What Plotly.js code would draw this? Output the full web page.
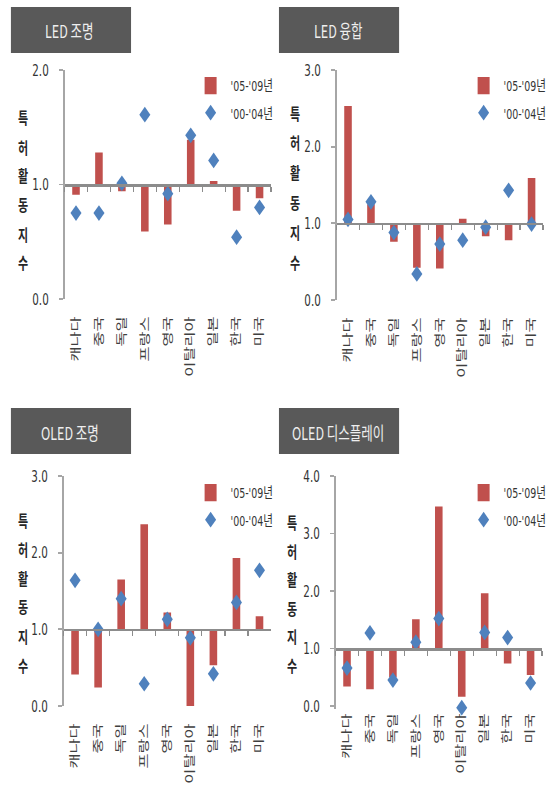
<!DOCTYPE html>
<html><head><meta charset="utf-8">
<script src="https://cdn.plot.ly/plotly-3.0.1.min.js"></script>
<style>
html{margin:0;padding:0;background:#fff;overflow:hidden;height:797px;}
body{margin:0;padding:0;background:#fff;height:797px;}
#chart{width:552px;height:560px;transform:scaleY(1.4232);transform-origin:0 0;}
</style></head><body><div id="chart"></div>
<script>
// ---------- data ----------
const countries = ['캐나다','중국','독일','프랑스','영국','이탈리아','일본','한국','미국'];
const panelTitles = ['LED 조명','LED 융합','OLED 조명','OLED 디스플레이'];
const seriesNames = ["'05-'09년","'00-'04년"];
const yTitleChars = ['특','허','활','동','지','수'];
const yMax = [2,3,3,4];
const yMin = [0,0,0,-0.05];
const baseline = 1.0;

const ledLight0509  = [0.91,1.28,0.94,0.59,0.65,1.39,1.03,0.77,0.88];
const ledLight0004  = [0.75,0.75,1.01,1.61,0.92,1.43,1.21,0.54,0.80];
const ledFusion0509 = [2.53,1.25,0.76,0.42,0.41,1.06,0.83,0.78,1.59];
const ledFusion0004 = [1.05,1.28,0.88,0.34,0.73,0.78,0.95,1.43,0.99];
const oledLight0509 = [0.41,0.24,1.65,2.37,1.22,0.00,0.53,1.93,1.17];
const oledLight0004 = [1.64,1.00,1.40,0.29,1.13,0.89,0.42,1.35,1.77];
const oledDisp0509  = [0.34,0.29,0.50,1.51,3.47,0.16,1.96,0.74,0.54];
const oledDisp0004  = [0.66,1.27,0.45,1.11,1.52,-0.03,1.28,1.19,0.40];

const recent = [ledLight0509, ledFusion0509, oledLight0509, oledDisp0509];
const earlier = [ledLight0004, ledFusion0004, oledLight0004, oledDisp0004];

// ---------- layout geometry (final pixel positions) ----------
const PW = 552, PH = 797;
const px = v => v / PW;
const py = v => 1 - v / PH;
// plot: [left, right, pixel of top value, pixel of value 0]
const panels = [
  {plot:[65,273,70,299],  box:[11,132,7,53],    ytx:23,  yt:[117,262], leg:[192,65]},
  {plot:[339,547,70,300], box:[281,402,7,53],   ytx:297, yt:[113,262], leg:[467,65]},
  {plot:[64,273,476,706], box:[11,132,408,454], ytx:23,  yt:[520,665], leg:[192,472]},
  {plot:[338,546,476,706],box:[281,402,408,454],ytx:294, yt:[522,665], leg:[467,472]}
];

const numFont = "'Liberation Sans Narrow','DejaVu Sans Condensed','Noto Sans CJK KR',sans-serif";
const korFont = "'Noto Sans CJK KR','Noto Sans',sans-serif";
const RED = '#C0504D', BLUE = '#4F81BD';

const traces = [];
const layout = {
  width: 552, height: 560,
  margin: {l:0,r:0,t:0,b:0},
  paper_bgcolor:'#ffffff', plot_bgcolor:'rgba(0,0,0,0)',
  showlegend: true,
  shapes: [], annotations: []
};

panels.forEach((p, i) => {
  const n = i + 1, m = i + 5;
  const unit = (p.plot[3] - p.plot[2]) / yMax[i];
  const bottomPx = p.plot[3] - yMin[i] * unit;
  const xd = [px(p.plot[0]), px(p.plot[1])];
  const yd = [py(bottomPx), py(p.plot[2])];
  const legName = i === 0 ? 'legend' : 'legend' + n;
  const yax = 'y' + (n === 1 ? '' : n);
  const xax = 'x' + (n === 1 ? '' : n);
  const xov = 'x' + m;

  layout['xaxis' + (n === 1 ? '' : n)] = {
    domain: xd, anchor: yax, type: 'category', range: [-0.5, 8.5],
    categoryorder: 'array', categoryarray: countries,
    showline: false, ticks: '', showgrid: false, zeroline: false,
    tickangle: -90, ticklabelstandoff: 9 - (bottomPx - p.plot[3]) / 1.4232,
    tickfont: {family: korFont, size: 11.5, color: '#404040'},
    fixedrange: true
  };
  const pos = yd[0] + ((baseline - yMin[i]) / (yMax[i] - yMin[i])) * (yd[1] - yd[0]);
  layout['xaxis' + m] = {
    overlaying: xax, anchor: 'free', position: pos, type: 'category',
    range: [-0.5, 8.5], categoryorder: 'array', categoryarray: countries,
    showticklabels: false, ticks: 'outside', tickson: 'boundaries',
    ticklen: 3.5, tickwidth: 1.2, tickcolor: '#8c8c8c',
    showline: true, linecolor: '#8c8c8c', linewidth: 1.5,
    showgrid: false, zeroline: false, fixedrange: true
  };
  layout['yaxis' + (n === 1 ? '' : n)] = {
    domain: yd, anchor: xax, range: [yMin[i], yMax[i]], tick0: 0, dtick: 1, tickformat: '.1f',
    ticks: 'outside', ticklen: 4, tickwidth: 1.2, tickcolor: '#a6a6a6',
    showline: true, linecolor: '#a6a6a6', linewidth: 1.5,
    showgrid: false, zeroline: false, ticklabelstandoff: 8,
    tickfont: {family: numFont, size: 11.5, color: '#333333'},
    fixedrange: true
  };
  layout[legName] = {
    x: px(p.leg[0]), y: py(p.leg[1]), xanchor: 'left', yanchor: 'top',
    bgcolor: 'rgba(0,0,0,0)', borderwidth: 0, traceorder: 'normal',
    font: {family: numFont, size: 10.5, color: '#333333'}
  };

  traces.push({
    type: 'bar', x: countries, y: recent[i].map(v => v - baseline), base: baseline,
    width: 0.33, marker: {color: RED}, name: seriesNames[0],
    xaxis: xax, yaxis: yax, legend: legName, hoverinfo: 'skip'
  });
  traces.push({
    type: 'scatter', mode: 'markers', x: countries, y: earlier[i],
    marker: {symbol: 'diamond', size: 8.5, color: BLUE},
    name: seriesNames[1], cliponaxis: false,
    xaxis: xov, yaxis: yax, legend: legName, hoverinfo: 'skip'
  });

  // title box
  layout.shapes.push({
    type: 'rect', xref: 'paper', yref: 'paper',
    x0: px(p.box[0]), x1: px(p.box[1]), y0: py(p.box[3]), y1: py(p.box[2]),
    fillcolor: '#595959', line: {width: 0}, layer: 'below'
  });
  layout.annotations.push({
    xref: 'paper', yref: 'paper', x: px((p.box[0] + p.box[1]) / 2 - 1),
    y: py((p.box[2] + p.box[3]) / 2 + 1), xanchor: 'center', yanchor: 'middle',
    text: panelTitles[i], showarrow: false,
    font: {family: korFont, size: 12.5, color: '#eeeeee'}
  });
  // vertical y-axis title
  yTitleChars.forEach((ch, k) => {
    const yy = p.yt[0] + (p.yt[1] - p.yt[0]) * k / (yTitleChars.length - 1);
    layout.annotations.push({
      xref: 'paper', yref: 'paper', x: px(p.ytx), y: py(yy),
      xanchor: 'center', yanchor: 'middle', text: '<b>' + ch + '</b>', showarrow: false,
      font: {family: korFont, size: 11, color: '#262626'}
    });
  });
});

Plotly.newPlot('chart', traces, layout, {displayModeBar: false, staticPlot: true});
</script></body></html>
